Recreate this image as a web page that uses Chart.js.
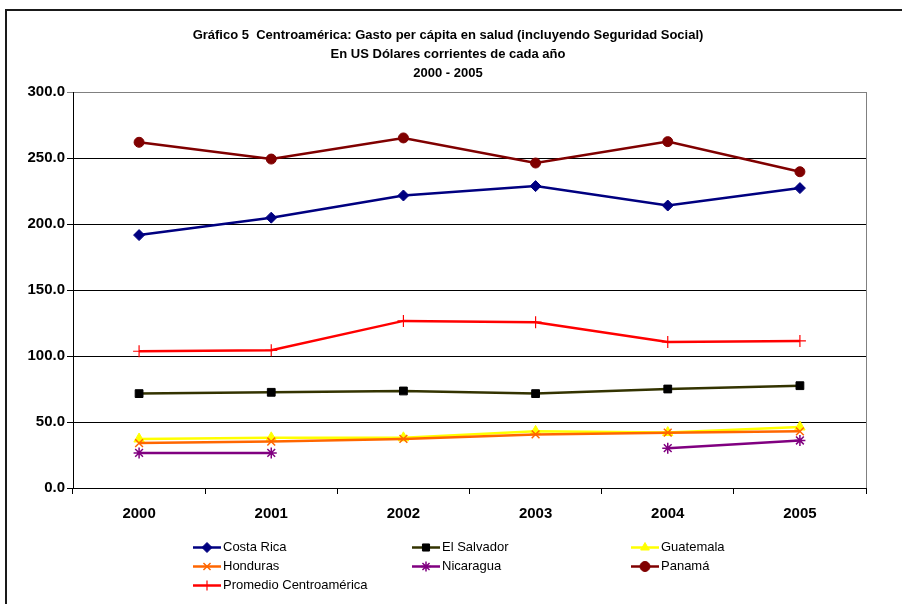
<!DOCTYPE html>
<html>
<head>
<meta charset="utf-8">
<title>Gasto per cápita en salud</title>
<script src="https://cdn.jsdelivr.net/npm/chart.js@4/dist/chart.umd.min.js"></script>
<style>
  html, body { margin: 0; padding: 0; background: #fff; }
  canvas { display: block; }
</style>
</head>
<body>
<canvas id="c" width="902" height="604"></canvas>
<script>
// Years on the category axis
const years = ['2000', '2001', '2002', '2003', '2004', '2005'];

// Health spending per capita, current US dollars
const costaRica   = [191.6, 204.8, 221.6, 228.7, 214.0, 227.2];
const elSalvador  = [71.5, 72.5, 73.5, 71.5, 75.0, 77.5];
const guatemala   = [37.1, 38.0, 38.0, 42.9, 42.0, 46.2];
const honduras    = [34.0, 35.2, 37.2, 40.6, 41.9, 42.9];
const nicaragua   = [26.6, 26.6, null, null, 30.2, 36.0];
const panama      = [261.9, 249.2, 265.2, 246.2, 262.4, 239.6];
const promedio    = [103.6, 104.3, 126.6, 125.6, 110.7, 111.4];

// Y axis tick values
const yTicks = [0, 50, 100, 150, 200, 250, 300];

const titleLines = [
  'Gráfico 5  Centroamérica: Gasto per cápita en salud (incluyendo Seguridad Social)',
  'En US Dólares corrientes de cada año',
  '2000 - 2005'
];

const FONT = '"Liberation Sans", Arial, Helvetica, sans-serif';

function series(label, data, color, pointStyle, extra) {
  return Object.assign({
    label: label,
    data: data,
    borderColor: color,
    backgroundColor: color,
    pointBackgroundColor: color,
    pointBorderColor: color,
    pointStyle: pointStyle,
    pointRadius: 5,
    pointBorderWidth: 1,
    borderWidth: 2.5,
    tension: 0,
    spanGaps: false
  }, extra || {});
}

const datasets = [
  series('Costa Rica', costaRica, '#000080', 'rectRot', { pointRadius: 5.5 }),
  series('El Salvador', elSalvador, '#333300', 'rect', { pointBackgroundColor: '#000', pointBorderColor: '#000', pointRadius: 5.5 }),
  series('Guatemala', guatemala, '#FFFF00', 'triangle', { pointRadius: 6 }),
  series('Honduras', honduras, '#FF6600', 'crossRot', { pointBorderWidth: 1.5, pointRadius: 5.5 }),
  series('Nicaragua', nicaragua, '#800080', 'star', { pointBorderWidth: 1.5, pointRadius: 5.5 }),
  series('Panamá', panama, '#800000', 'circle', { pointRadius: 5 }),
  series('Promedio Centroamérica', promedio, '#FF0000', 'cross', { pointBorderWidth: 1.2, pointRadius: 6 })
];
// later series are painted on top of earlier ones
datasets.forEach((d, i) => { d.order = datasets.length - i; });

const decorations = {
  id: 'decorations',
  beforeDatasetsDraw(chart) {
    const { ctx, chartArea: a } = chart;
    ctx.save();
    ctx.strokeStyle = '#808080';
    ctx.lineWidth = 1;
    ctx.beginPath();
    ctx.moveTo(Math.round(a.right) + 0.5, a.top);
    ctx.lineTo(Math.round(a.right) + 0.5, a.bottom);
    ctx.stroke();
    ctx.restore();
  },
  afterDraw(chart) {
    const ctx = chart.ctx;
    ctx.save();
    // outer frame
    ctx.strokeStyle = '#1a1a1a';
    ctx.lineWidth = 2;
    ctx.strokeRect(6, 10, 1000, 1000);

    // title
    ctx.fillStyle = '#000';
    ctx.font = 'bold 13px ' + FONT;
    ctx.textAlign = 'center';
    ctx.textBaseline = 'middle';
    const ty = [35, 54, 73];
    titleLines.forEach((t, i) => ctx.fillText(t, 448, ty[i]));

    // legend in three columns
    const colX = [193, 412, 631];
    const rowY = [547, 566, 585];
    ctx.font = '13px ' + FONT;
    ctx.textAlign = 'left';
    chart.data.datasets.forEach((d, i) => {
      const x = colX[i % 3];
      const y = rowY[Math.floor(i / 3)] + 0.5;
      ctx.strokeStyle = d.borderColor;
      ctx.lineWidth = 2.5;
      ctx.beginPath();
      ctx.moveTo(x, y);
      ctx.lineTo(x + 28, y);
      ctx.stroke();
      ctx.fillStyle = d.pointBackgroundColor;
      ctx.strokeStyle = d.pointBorderColor;
      ctx.lineWidth = d.pointBorderWidth;
      if (Chart.helpers && Chart.helpers.drawPoint) {
        Chart.helpers.drawPoint(ctx, {
          pointStyle: d.pointStyle,
          radius: Math.min(d.pointRadius, 5),
          rotation: 0,
          borderWidth: d.pointBorderWidth
        }, x + 14, y);
      }
      ctx.fillStyle = '#000';
      ctx.fillText(d.label, x + 30, y);
    });
    ctx.restore();
  }
};

new Chart(document.getElementById('c'), {
  type: 'line',
  data: { labels: years, datasets: datasets },
  options: {
    responsive: false,
    animation: false,
    devicePixelRatio: 1,
    layout: { padding: { top: 92, right: 36, left: 0, bottom: 0 } },
    plugins: {
      legend: { display: false },
      title: { display: false },
      tooltip: { enabled: false }
    },
    scales: {
      x: {
        offset: true,
        afterFit: s => { s.height = 116; },
        grid: {
          offset: true,
          drawOnChartArea: false,
          drawTicks: true,
          tickLength: 6,
          color: '#000'
        },
        border: { display: true, color: '#000', width: 1 },
        ticks: {
          color: '#000',
          padding: 11,
          font: { family: FONT, size: 15, weight: 'bold' }
        }
      },
      y: {
        min: 0,
        max: 300,
        afterFit: s => { s.width = 73; },
        afterBuildTicks: s => { s.ticks = yTicks.map(v => ({ value: v })); },
        grid: {
          color: c => (c.tick && c.tick.value === 300 ? '#808080' : '#000'),
          lineWidth: 1,
          tickLength: 6
        },
        border: { display: true, color: '#000', width: 1 },
        ticks: {
          color: '#000',
          padding: 2,
          font: { family: FONT, size: 15, weight: 'bold' },
          callback: v => Number(v).toFixed(1)
        }
      }
    }
  },
  plugins: [decorations]
});
</script>
</body>
</html>
